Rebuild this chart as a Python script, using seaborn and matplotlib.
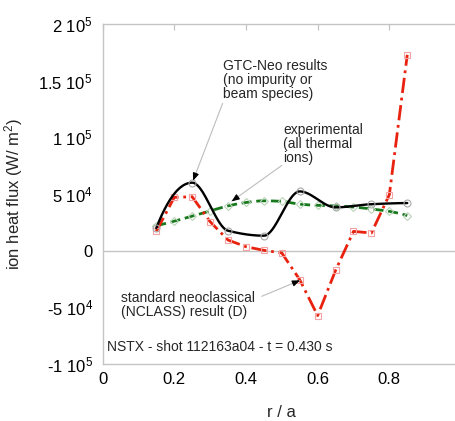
import numpy as np
import matplotlib
matplotlib.use("Agg")
import matplotlib.pyplot as plt
import seaborn as sns

# ---- data -------------------------------------------------------------
# GTC-Neo results (no impurity or beam species)
r_gtc = [0.15, 0.25, 0.35, 0.45, 0.55, 0.65, 0.75, 0.85]
q_gtc = [2.0e4, 6.0e4, 1.76e4, 1.32e4, 5.23e4, 3.82e4, 4.1e4, 4.2e4]

# experimental (all thermal ions)
r_exp = [0.15, 0.20, 0.25, 0.30, 0.35, 0.40, 0.45, 0.50,
         0.55, 0.60, 0.65, 0.70, 0.75, 0.80, 0.85]
q_exp = [2.2e4, 2.6e4, 3.05e4, 3.5e4, 3.95e4, 4.25e4, 4.4e4, 4.35e4,
         4.1e4, 4.0e4, 3.95e4, 3.85e4, 3.68e4, 3.47e4, 3.1e4]

# standard neoclassical (NCLASS) result (D)
r_ncl = [0.15, 0.20, 0.25, 0.30, 0.35, 0.40, 0.45, 0.50,
         0.55, 0.60, 0.65, 0.70, 0.75, 0.80, 0.85]
q_ncl = [1.7e4, 4.7e4, 4.76e4, 2.56e4, 0.94e4, 0.35e4, 0.03e4, -0.2e4,
         -2.56e4, -5.73e4, -1.74e4, 1.7e4, 1.56e4, 4.94e4, 1.728e5]

x_ticks = [0, 0.2, 0.4, 0.6, 0.8]
x_tick_labels = ["0", "0.2", "0.4", "0.6", "0.8"]
y_ticks = [-1e5, -5e4, 0, 5e4, 1e5, 1.5e5, 2e5]
y_tick_labels = [r"-1 10$^{\mathrm{5}}$", r"-5 10$^{\mathrm{4}}$", "0",
                 r"5 10$^{\mathrm{4}}$", r"1 10$^{\mathrm{5}}$",
                 r"1.5 10$^{\mathrm{5}}$", r"2 10$^{\mathrm{5}}$"]


def pchip_curve(x, y, n=40):
    """Shape-preserving cubic through the points, for drawing a smooth line."""
    x = np.asarray(x, float)
    y = np.asarray(y, float)
    h = np.diff(x)
    dl = np.diff(y) / h
    d = np.zeros_like(y)
    for k in range(1, len(x) - 1):
        if dl[k - 1] * dl[k] > 0:
            w1 = 2 * h[k] + h[k - 1]
            w2 = h[k] + 2 * h[k - 1]
            d[k] = (w1 + w2) / (w1 / dl[k - 1] + w2 / dl[k])

    def end(h0, h1, d0, d1):
        s = ((2 * h0 + h1) * d0 - h0 * d1) / (h0 + h1)
        if np.sign(s) != np.sign(d0):
            s = 0.0
        elif np.sign(d0) != np.sign(d1) and abs(s) > 3 * abs(d0):
            s = 3 * d0
        return s

    d[0] = end(h[0], h[1], dl[0], dl[1])
    d[-1] = end(h[-1], h[-2], dl[-1], dl[-2])
    xs, ys = [], []
    for k in range(len(x) - 1):
        t = np.linspace(0, 1, n, endpoint=(k == len(x) - 2))
        h00 = 2 * t**3 - 3 * t**2 + 1
        h10 = t**3 - 2 * t**2 + t
        h01 = -2 * t**3 + 3 * t**2
        h11 = t**3 - t**2
        xs.append(x[k] + t * h[k])
        ys.append(h00 * y[k] + h10 * h[k] * d[k] + h01 * y[k + 1] + h11 * h[k] * d[k + 1])
    return np.concatenate(xs), np.concatenate(ys)


# ---- style ------------------------------------------------------------
sns.set_style("white")
plt.rcParams["font.family"] = ["Liberation Sans", "DejaVu Sans"]
plt.rcParams["mathtext.fontset"] = "custom"
plt.rcParams["mathtext.rm"] = "Liberation Sans"
plt.rcParams["mathtext.it"] = "Liberation Sans:italic"
plt.rcParams["mathtext.bf"] = "Liberation Sans:bold"

RED = "#e8220e"
GREEN = "#17791c"
SPINE = "#c4c4c4"

fig = plt.figure(figsize=(4.55, 4.21), dpi=100)
ax = fig.add_axes([0.2253, 0.1354, 0.788, 0.8076])

ax.axhline(0, color=SPINE, lw=1.0, zorder=1)

# experimental
xs, ys = pchip_curve(r_exp, q_exp)
sns.lineplot(x=xs, y=ys, sort=False, estimator=None, ax=ax, color=GREEN,
             lw=2.0, linestyle=(0, (3.6, 1.7)), zorder=3)
ax.plot(r_exp, q_exp, ls="none", marker="D", ms=4.2, mfc="none",
        mec="#b9d3b9", mew=0.8, zorder=4)

# GTC-Neo
xs, ys = pchip_curve(r_gtc, q_gtc)
sns.lineplot(x=xs, y=ys, sort=False, estimator=None, ax=ax, color="black",
             lw=1.7, zorder=5)
ax.plot(r_gtc, q_gtc, ls="none", marker="o", ms=5, mfc="none",
        mec="#a8a8a8", mew=0.8, zorder=6)

# NCLASS
sns.lineplot(x=r_ncl, y=q_ncl, sort=False, estimator=None, ax=ax, color=RED,
             lw=2.0, linestyle=(0, (5.5, 1.7, 1.0, 1.7)), zorder=4)
ax.plot(r_ncl, q_ncl, ls="none", marker="s", ms=5, mfc="none",
        mec="#f3a3a3", mew=0.8, zorder=4.5)

# ---- axes -------------------------------------------------------------
ax.set_xlim(0, 1.0)
ax.set_ylim(-1e5, 2e5)
ax.set_xticks(x_ticks)
ax.set_xticklabels(x_tick_labels)
ax.set_yticks(y_ticks)
ax.set_yticklabels(y_tick_labels)
ax.tick_params(axis="both", direction="in", length=4.5, width=0.9,
               color=SPINE, labelsize=12, labelcolor="black",
               top=True, right=True)
ax.tick_params(axis="y", pad=7)
ax.tick_params(axis="x", pad=6)
for s in ax.spines.values():
    s.set_color(SPINE)
    s.set_linewidth(1.0)

ax.set_xlabel("r / a", fontsize=12)
ax.set_ylabel(r"ion heat flux (W/ m$^{\mathrm{2}}$)", fontsize=12)
ax.xaxis.set_label_coords(0.5, -0.12)
ax.yaxis.set_label_coords(-0.215, 0.5)

# ---- annotations ------------------------------------------------------
def pointer(text_xy, tip_xy):
    ax.annotate("", xy=tip_xy, xytext=text_xy,
                arrowprops=dict(arrowstyle="-", color="#bdbdbd", lw=0.8,
                                shrinkA=0, shrinkB=0), zorder=7)
    tx, ty = tip_xy
    sx, sy = text_xy
    back = (tx + (sx - tx) * 0.09, ty + (sy - ty) * 0.09)
    ax.annotate("", xy=tip_xy, xytext=back,
                arrowprops=dict(arrowstyle="-|>,head_length=0.45,head_width=0.18",
                                color="black", lw=0.8, shrinkA=0, shrinkB=0),
                zorder=8)

ax.text(0.337, 1.69e5, "GTC-Neo results\n(no impurity or\nbeam species)",
        fontsize=10, ha="left", va="top", linespacing=1.0)
pointer((0.335, 1.30e5), (0.2525, 6.17e4))

ax.text(0.504, 1.125e5, "experimental\n(all thermal\nions)",
        fontsize=10, ha="left", va="top", linespacing=1.0)
pointer((0.50, 7.52e4), (0.360, 4.35e4))

ax.text(0.051, -3.55e4, "standard neoclassical\n(NCLASS) result (D)",
        fontsize=10, ha="left", va="top", linespacing=1.0)
pointer((0.444, -4.03e4), (0.551, -2.62e4))

ax.text(0.012, -7.9e4, "NSTX - shot 112163a04 - t = 0.430 s",
        fontsize=10, ha="left", va="top")

fig.savefig("out.png", dpi=100)
